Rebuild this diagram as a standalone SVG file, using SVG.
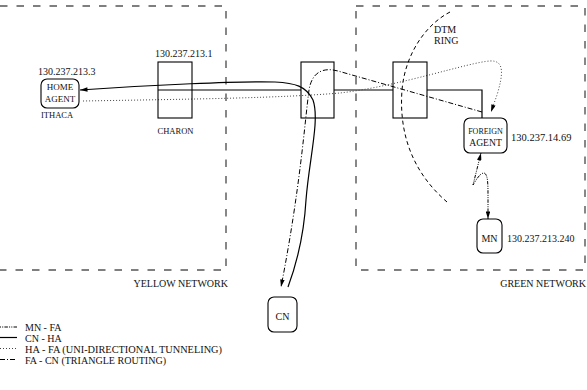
<svg xmlns="http://www.w3.org/2000/svg" width="587" height="390" viewBox="0 0 587 390">
<style>
text{font-family:"Liberation Serif","Times New Roman",serif;font-size:10px;fill:#111}
.net{fill:none;stroke:#555;stroke-width:1.4;stroke-dasharray:7.5 9}
.box{fill:none;stroke:#000;stroke-width:1.1}
.node{fill:#fff;stroke:#000;stroke-width:1.1}
.c{fill:none;stroke:#000;stroke-width:1}
.solid{stroke-width:1.2}
.dd{stroke-dasharray:5 2 1 2}
.dot{stroke:#444;stroke-dasharray:1 2}
.mf{stroke-dasharray:1 1.2 1 1.2 3.5 1.2}
.ring{stroke-dasharray:4 3}
.m{text-anchor:middle}
</style>
<defs>
<marker id="ah" viewBox="0 0 10 6" refX="10" refY="3" markerWidth="8" markerHeight="4.5" markerUnits="userSpaceOnUse" orient="auto-start-reverse">
<path d="M0,0 L10,3 L0,6 Z" fill="#000"/>
</marker>
</defs>

<g id="yellow-network">
<path class="net" d="M0,6 H226 V270 H0"/>
<text x="228" y="287" text-anchor="end">YELLOW NETWORK</text>
</g>
<g id="green-network">
<path class="net" d="M356,6 H585 V270 H356 Z"/>
<text x="586" y="287" text-anchor="end">GREEN NETWORK</text>
</g>

<g id="connectors">
<path class="c solid" d="M158,90 H301 M334,90 H393 M427,90 H482 V118"/>
<path class="c ring" d="M450,12 C425,25 405,55 402,90 C399,130 410,170 447,202"/>
<path class="c solid" d="M288,287 C298,260 304,235 306,200 C309,160 320,120 313,100 C306,86 295,83 275,82 C240,81 150,85 80,90" marker-end="url(#ah)"/>
<path class="c dd" d="M482,112 L338,71 C323,67 312,72 309,90 C305,120 300,190 281,287" marker-end="url(#ah)"/>
<path class="c dot" d="M83,101 C200,99 280,98 340,93 C400,86 470,62 490,61 C505,60 503,75 497,95 L491,112" marker-end="url(#ah)"/>
<path class="c mf" d="M481,153 L473,185 C476,180 480,173 484,173 C488,174 488,185 488,195 L488,219" marker-start="url(#ah)" marker-end="url(#ah)"/>
</g>

<g id="charon">
<rect class="box" x="158" y="62" width="34" height="56"/>
<text x="155" y="57">130.237.213.1</text>
<text x="175.5" y="134" class="m" style="font-size:8.5px">CHARON</text>
</g>
<g id="router-middle">
<rect class="box" x="301" y="62" width="33" height="56"/>
</g>
<g id="router-right">
<rect class="box" x="393" y="62" width="34" height="56"/>
</g>

<g id="home-agent">
<rect class="node" x="41" y="79" width="38" height="29" rx="6"/>
<text x="60" y="90" class="m" style="font-size:9px">HOME</text>
<text x="60" y="102" class="m" style="font-size:9px">AGENT</text>
<text x="38" y="75">130.237.213.3</text>
<text x="41" y="118" style="font-size:8.5px">ITHACA</text>
</g>

<g id="foreign-agent">
<rect class="node" x="464" y="118" width="43" height="35" rx="6"/>
<text x="485.5" y="133.5" class="m" style="font-size:8px">FOREIGN</text>
<text x="485.5" y="146" class="m" style="font-size:9.6px">AGENT</text>
<text x="511" y="141" style="font-size:10.5px">130.237.14.69</text>
</g>

<g id="dtm-ring-label">
<text x="434" y="33">DTM</text>
<text x="434" y="44">RING</text>
</g>

<g id="mn">
<rect class="node" x="477" y="219" width="25" height="34" rx="6"/>
<text x="489.5" y="242" class="m">MN</text>
<text x="507" y="242">130.237.213.240</text>
</g>

<g id="cn">
<rect class="node" x="268" y="297" width="29" height="35" rx="6"/>
<text x="282.5" y="320" class="m">CN</text>
</g>

<g id="legend">
<line class="c mf" x1="0" y1="327" x2="17" y2="327"/>
<text x="25" y="330.5">MN - FA</text>
<line class="c solid" x1="0" y1="337.5" x2="17" y2="337.5"/>
<text x="25" y="341.5">CN - HA</text>
<line class="c dot" x1="0" y1="348.5" x2="17" y2="348.5"/>
<text x="25" y="352.5" textLength="197" lengthAdjust="spacingAndGlyphs">HA - FA (UNI-DIRECTIONAL TUNNELING)</text>
<line class="c dd" x1="0" y1="359.5" x2="17" y2="359.5"/>
<text x="25" y="363.5" textLength="141" lengthAdjust="spacingAndGlyphs">FA - CN (TRIANGLE ROUTING)</text>
</g>
</svg>
